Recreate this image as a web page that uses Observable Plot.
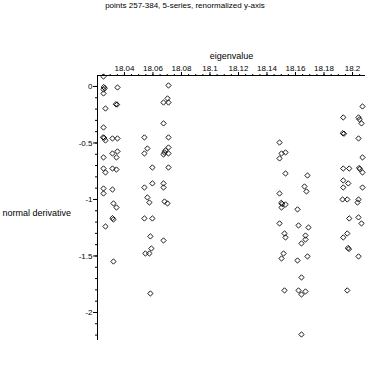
<!DOCTYPE html>
<html><head><meta charset="utf-8">
<script src="https://cdn.jsdelivr.net/npm/d3@7"></script>
<script src="https://cdn.jsdelivr.net/npm/@observablehq/plot@0.6"></script>
<style>
body{margin:0;background:#fff;}
#wrap{position:relative;width:370px;height:370px;}
#title{position:absolute;top:0;left:0;width:370px;text-align:center;font:8px "Liberation Sans",Arial,sans-serif;line-height:12px;color:#000;}
#wrap svg{position:absolute;top:0;left:0;}
</style></head><body>
<div id="wrap"><div id="title">points 257-384, 5-series, renormalized y-axis</div></div>
<script>
const titleText = "points 257-384, 5-series, renormalized y-axis";
const xLabel = "eigenvalue";
const yLabel = "normal derivative";

const eigenvalue = [
  18.0253,18.0255,18.0262,18.0253,18.0253,18.0267,18.0253,18.0250,18.0258,18.0267,18.0253,18.0253,18.0267,18.0253,18.0253,18.0267,
  18.0351,18.0340,18.0348,18.0316,18.0351,18.0351,18.0316,18.0344,18.0316,18.0344,18.0316,18.0323,18.0344,18.0316,18.0323,18.0323,
  18.0540,18.0561,18.0540,18.0596,18.0596,18.0540,18.0561,18.0575,18.0540,18.0596,18.0582,18.0589,18.0575,18.0547,18.0582,
  18.0709,18.0702,18.0674,18.0709,18.0674,18.0709,18.0709,18.0688,18.0681,18.0709,18.0674,18.0709,18.0674,18.0674,18.0681,18.0702,18.0674,
  18.1488,18.1502,18.1530,18.1488,18.1530,18.1488,18.1500,18.1506,18.1530,18.1502,18.1488,18.1523,18.1530,18.1516,18.1502,18.1523,
  18.1684,18.1663,18.1677,18.1614,18.1621,18.1691,18.1670,18.1670,18.1642,18.1684,18.1614,18.1642,18.1621,18.1642,18.1670,18.1642,
  18.1935,18.1932,18.1940,18.1935,18.1977,18.1935,18.1970,18.1935,18.1930,18.1963,18.1977,18.1963,18.1935,18.1968,18.1975,18.1963,
  18.2070,18.2042,18.2049,18.2063,18.2042,18.2070,18.2046,18.2052,18.2070,18.2070,18.2042,18.2035,18.2042,18.2063,18.2042
];
const normalDerivative = [
  0.088,-0.005,-0.015,-0.027,-0.062,-0.195,-0.363,-0.450,-0.455,-0.478,-0.628,-0.726,-0.761,-0.903,-0.947,-1.239,
  -0.009,-0.157,-0.160,-0.460,-0.460,-0.575,-0.593,-0.628,-0.726,-0.735,-0.912,-1.035,-1.071,-1.165,-1.177,-1.549,
  -0.451,-0.549,-0.593,-0.717,-0.858,-0.894,-0.982,-1.027,-1.168,-1.168,-1.327,-1.434,-1.478,-1.478,-1.832,
  0.009,-0.106,-0.142,-0.142,-0.327,-0.451,-0.540,-0.566,-0.584,-0.593,-0.602,-0.717,-0.858,-0.894,-1.018,-1.035,-1.363,
  -0.496,-0.593,-0.584,-0.637,-0.770,-0.947,-1.030,-1.040,-1.044,-1.071,-1.212,-1.301,-1.336,-1.478,-1.522,-1.805,
  -0.788,-0.885,-0.929,-1.088,-1.230,-1.248,-1.319,-1.354,-1.389,-1.504,-1.540,-1.690,-1.805,-1.841,-1.814,-2.195,
  -0.274,-0.414,-0.418,-0.726,-0.726,-0.832,-0.858,-0.894,-1.000,-1.000,-1.168,-1.301,-1.336,-1.430,-1.438,-1.805,
  -0.177,-0.274,-0.292,-0.327,-0.460,-0.628,-0.722,-0.730,-0.761,-0.894,-1.000,-1.027,-1.159,-1.212,-1.504
];
const xTicks = [18.04,18.06,18.08,18.1,18.12,18.14,18.16,18.18,18.2];
const yTicks = [0,-0.5,-1,-1.5,-2];
const xDomain = [18.0211, 18.2091];
const yDomain = [-2.248, 0.097];

const data = eigenvalue.map((x, i) => ({x, y: normalDerivative[i]}));
const xMinor = d3.range(0, 38).map(i => 18.025 + i * 0.005).filter(v => v >= xDomain[0] && v <= xDomain[1]);
const yMinor = d3.range(0, 23).map(i => -i * 0.1).filter(v => v >= yDomain[0]);
const fmt = d => d === 0 ? "0" : String(Math.round(d * 100) / 100);

const chart = Plot.plot({
  width: 370, height: 370,
  marginLeft: 97, marginRight: 5, marginTop: 75, marginBottom: 30,
  style: {fontFamily: '"Liberation Sans", Arial, sans-serif', fontSize: "8px", background: "transparent", overflow: "visible", color: "#000"},
  x: {domain: xDomain},
  y: {domain: yDomain},
  marks: [
    Plot.ruleY([yDomain[1]], {stroke: "black"}),
    Plot.ruleX([xDomain[0]], {stroke: "black"}),
    Plot.axisX({anchor: "top", ticks: xMinor, tickSize: 2, tickFormat: () => "", label: null}),
    Plot.axisX({anchor: "top", ticks: xTicks, tickSize: 4, tickPadding: 1, tickFormat: fmt, label: null}),
    Plot.axisY({anchor: "left", ticks: yMinor, tickSize: 2, tickFormat: () => "", label: null}),
    Plot.axisY({anchor: "left", ticks: yTicks, tickSize: 4, tickPadding: 1, tickFormat: fmt, label: null}),
    Plot.text([xLabel], {frameAnchor: "top", dy: -23, text: d => d, fontSize: 9}),
    Plot.text([yLabel], {frameAnchor: "left", dx: -95, dy: 5, textAnchor: "start", text: d => d, fontSize: 9}),
    Plot.dot(data, {x: "x", y: "y", symbol: "diamond2", r: 2.4, stroke: "black", strokeWidth: 0.9, fill: "none"})
  ]
});
document.getElementById("wrap").appendChild(chart);
</script>
</body></html>
